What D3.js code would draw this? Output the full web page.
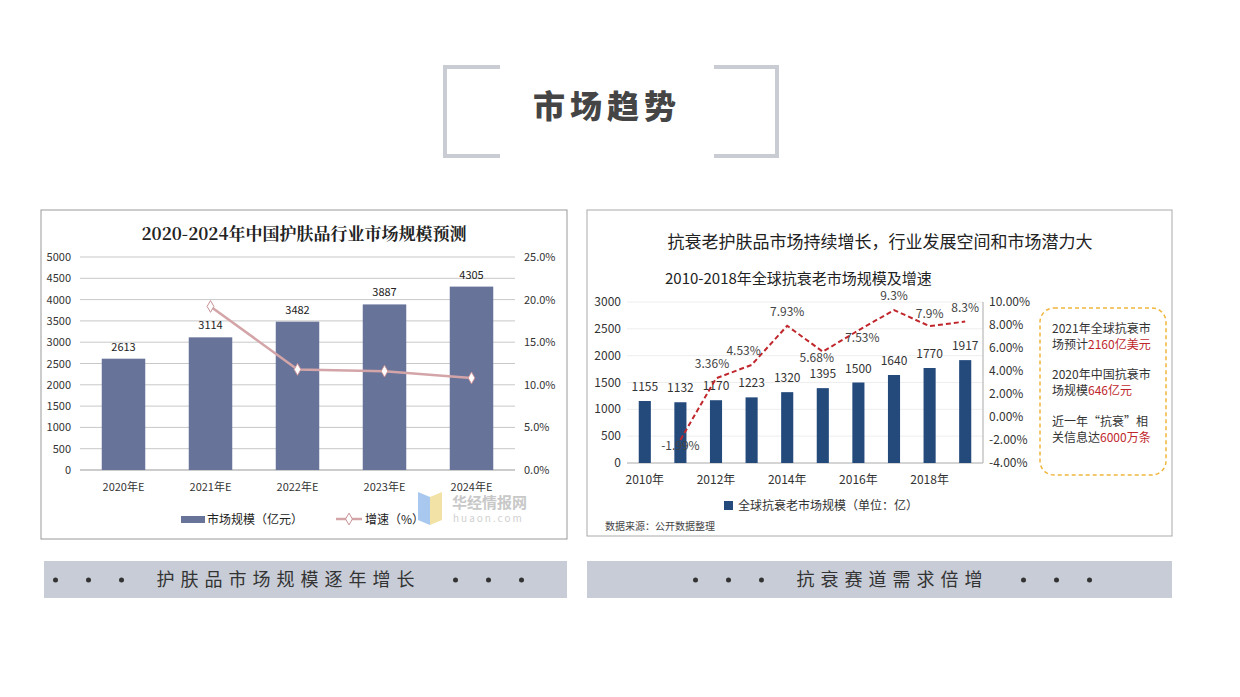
<!DOCTYPE html>
<html><head><meta charset="utf-8">
<script src="https://cdn.jsdelivr.net/npm/d3@7"></script>
<style>body{margin:0;background:#fff}text{font-family:"Noto Sans CJK SC","Noto Sans",sans-serif}</style>
</head><body><div class="canva"></div>
<script>
// left chart data
const years1 = ["2020年E", "2021年E", "2022年E", "2023年E", "2024年E"];
const market1 = [2613, 3114, 3482, 3887, 4305];
const growth1 = [null, 19.2, 11.8, 11.6, 10.8];
const leftTicks = [0, 500, 1000, 1500, 2000, 2500, 3000, 3500, 4000, 4500, 5000];
const rightTicks1 = [0, 5, 10, 15, 20, 25];

// right chart data
const years2 = ["2010年", "2011年", "2012年", "2013年", "2014年", "2015年", "2016年", "2017年", "2018年", "2019年"];
const market2 = [1155, 1132, 1170, 1223, 1320, 1395, 1500, 1640, 1770, 1917];
const growth2 = [null, -1.99, 3.36, 4.53, 7.93, 5.68, 7.53, 9.3, 7.9, 8.3];
const growthLbl2 = ["", "-1.99%", "3.36%", "4.53%", "7.93%", "5.68%", "7.53%", "9.3%", "7.9%", "8.3%"];
const rightTicks2 = [-4, -2, 0, 2, 4, 6, 8, 10];

const svg = d3.select(".canva").append("svg").attr("width", 1240).attr("height", 697);

// header frame
const fr = svg.append("g").attr("stroke", "#c9ccd3").attr("stroke-width", 4).attr("fill", "none");
fr.append("path").attr("d", "M500,67 H445 V156 H500");
fr.append("path").attr("d", "M714,67 H777 V156 H714");
svg.append("text").text("市场趋势").attr("x", 607).attr("y", 118).attr("text-anchor", "middle")
    .attr("font-size", 32).attr("font-weight", 900).attr("fill", "#454545").attr("letter-spacing", 5);

// ---------- left panel ----------
svg.append("rect").attr("x", 41).attr("y", 210).attr("width", 526).attr("height", 329)
    .attr("fill", "#fff").attr("stroke", "#999");
svg.append("text").text("2020-2024年中国护肤品行业市场规模预测").attr("x", 304).attr("y", 240)
    .attr("text-anchor", "middle").attr("font-size", 17).attr("font-weight", "bold").attr("fill", "#222")
    .style("font-family", "'Noto Serif CJK SC','Noto Sans CJK SC',serif");

const x1 = d3.scaleBand().domain(years1).range([80, 515]).paddingInner(0.5).paddingOuter(0.25);
const y1 = d3.scaleLinear().domain([0, 5000]).range([470, 257]);
const y1r = d3.scaleLinear().domain([0, 25]).range([470, 257]);

svg.selectAll(".g1").data(leftTicks.slice(1)).enter().append("line")
    .attr("x1", 80).attr("x2", 515).attr("y1", d => y1(d)).attr("y2", d => y1(d)).attr("stroke", "#c8c8c8");
svg.append("line").attr("x1", 80).attr("x2", 515).attr("y1", 470).attr("y2", 470).attr("stroke", "#999");
svg.selectAll(".t1").data(leftTicks).enter().append("text").text(d => d)
    .attr("x", 71).attr("y", d => y1(d) + 4).attr("text-anchor", "end").attr("font-size", 11).attr("fill", "#333");
svg.selectAll(".r1").data(rightTicks1).enter().append("text").text(d => d.toFixed(1) + "%")
    .attr("x", 524).attr("y", d => y1r(d) + 4).attr("font-size", 11).attr("fill", "#333");
svg.selectAll(".c1").data(years1).enter().append("text").text(d => d)
    .attr("x", d => x1(d) + x1.bandwidth() / 2).attr("y", 491).attr("text-anchor", "middle")
    .attr("font-size", 11).attr("fill", "#333");
svg.selectAll(".b1").data(market1).enter().append("rect")
    .attr("x", (d, i) => x1(years1[i])).attr("width", x1.bandwidth())
    .attr("y", d => y1(d)).attr("height", d => 470 - y1(d)).attr("fill", "#68739a");
svg.selectAll(".bl1").data(market1).enter().append("text").text(d => d)
    .attr("x", (d, i) => x1(years1[i]) + x1.bandwidth() / 2).attr("y", d => y1(d) - 8)
    .attr("text-anchor", "middle").attr("font-size", 11).attr("fill", "#222");
const pts1 = growth1.map((g, i) => [x1(years1[i]) + x1.bandwidth() / 2, g]).filter(d => d[1] != null);
svg.append("path").datum(pts1).attr("fill", "none").attr("stroke", "#d4a5a8").attr("stroke-width", 2.5)
    .attr("d", d3.line().x(d => d[0]).y(d => y1r(d[1])));
svg.selectAll(".m1").data(pts1).enter().append("path").attr("d", d3.symbol(d3.symbolDiamond, 40))
    .attr("transform", d => `translate(${d[0]},${y1r(d[1])})`).attr("fill", "#fff").attr("stroke", "#c89296");
// legend
svg.append("rect").attr("x", 181).attr("y", 516).attr("width", 24).attr("height", 7).attr("fill", "#68739a");
svg.append("text").text("市场规模（亿元）").attr("x", 207).attr("y", 524).attr("font-size", 12).attr("fill", "#222");
svg.append("line").attr("x1", 336).attr("x2", 362).attr("y1", 519).attr("y2", 519).attr("stroke", "#d4a5a8").attr("stroke-width", 2.5);
svg.append("path").attr("d", d3.symbol(d3.symbolDiamond, 40)).attr("transform", "translate(349,519)")
    .attr("fill", "#fff").attr("stroke", "#c89296");
svg.append("text").text("增速（%）").attr("x", 365).attr("y", 524).attr("font-size", 12).attr("fill", "#222");
// watermark
svg.append("path").attr("d", "M418,492 L430,497 L430,525 L418,520Z").attr("fill", "#a8c8f0");
svg.append("path").attr("d", "M430,497 L442,492 L442,520 L430,525Z").attr("fill", "#f3e2a6");
svg.append("text").text("华经情报网").attr("x", 452).attr("y", 508).attr("font-size", 15).attr("font-weight", "bold").attr("fill", "#c8c8c8");
svg.append("text").text("huaon.com").attr("x", 453).attr("y", 522).attr("font-size", 10).attr("fill", "#d0d0d0").attr("letter-spacing", 2);

// ---------- right panel ----------
svg.append("rect").attr("x", 587).attr("y", 210).attr("width", 585).attr("height", 326)
    .attr("fill", "#fff").attr("stroke", "#aaa");
svg.append("text").text("抗衰老护肤品市场持续增长，行业发展空间和市场潜力大").attr("x", 880).attr("y", 248)
    .attr("text-anchor", "middle").attr("font-size", 17).attr("fill", "#222");
svg.append("text").text("2010-2018年全球抗衰老市场规模及增速").attr("x", 665).attr("y", 284)
    .attr("font-size", 15).attr("fill", "#222");

const x2 = d3.scaleBand().domain(years2).range([627, 983]).paddingInner(0.66).paddingOuter(0.33);
const y2 = d3.scaleLinear().domain([0, 3000]).range([463, 302]);
const y2r = d3.scaleLinear().domain([-4, 10]).range([463, 302]);
const cx2 = d => x2(d) + x2.bandwidth() / 2;

svg.selectAll(".g2").data(d3.range(500, 3001, 500)).enter().append("line")
    .attr("x1", 627).attr("x2", 983).attr("y1", d => y2(d)).attr("y2", d => y2(d)).attr("stroke", "#eee");
svg.append("line").attr("x1", 627).attr("x2", 983).attr("y1", 463).attr("y2", 463).attr("stroke", "#aaa");
svg.append("line").attr("x1", 983).attr("x2", 983).attr("y1", 302).attr("y2", 463).attr("stroke", "#aaa");
svg.selectAll(".t2").data(d3.range(0, 3001, 500)).enter().append("text").text(d => d)
    .attr("x", 621).attr("y", d => y2(d) + 4).attr("text-anchor", "end").attr("font-size", 12).attr("fill", "#333");
svg.selectAll(".r2").data(rightTicks2).enter().append("text").text(d => d.toFixed(2) + "%")
    .attr("x", 989).attr("y", d => y2r(d) + 4).attr("font-size", 12).attr("fill", "#333");
svg.selectAll(".c2").data(years2.filter((d, i) => i % 2 === 0)).enter().append("text").text(d => d)
    .attr("x", d => cx2(d)).attr("y", 484).attr("text-anchor", "middle").attr("font-size", 12).attr("fill", "#333");
svg.selectAll(".b2").data(market2).enter().append("rect")
    .attr("x", (d, i) => x2(years2[i])).attr("width", x2.bandwidth())
    .attr("y", d => y2(d)).attr("height", d => 463 - y2(d)).attr("fill", "#244a7c");
svg.selectAll(".bl2").data(market2).enter().append("text").text(d => d)
    .attr("x", (d, i) => cx2(years2[i])).attr("y", d => y2(d) - 10)
    .attr("text-anchor", "middle").attr("font-size", 12).attr("fill", "#333");
const pts2 = growth2.map((g, i) => [cx2(years2[i]), g, growthLbl2[i]]).filter(d => d[1] != null);
svg.append("path").datum(pts2).attr("fill", "none").attr("stroke", "#c0272d").attr("stroke-width", 2)
    .attr("stroke-dasharray", "5,3").attr("d", d3.line().x(d => d[0]).y(d => y2r(d[1])));
const lblOff = [[0, 10], [-4, -10], [-8, -10], [0, -10], [-6, 10], [4, 12], [0, -10], [0, -8], [0, -10]];
svg.selectAll(".gl2").data(pts2).enter().append("text").text(d => d[2])
    .attr("x", (d, i) => d[0] + lblOff[i][0]).attr("y", (d, i) => y2r(d[1]) + lblOff[i][1])
    .attr("text-anchor", "middle").attr("font-size", 12).attr("fill", "#444");
// legend
svg.append("rect").attr("x", 724).attr("y", 501).attr("width", 9).attr("height", 9).attr("fill", "#244a7c");
svg.append("text").text("全球抗衰老市场规模（单位：亿）").attr("x", 738).attr("y", 510).attr("font-size", 12).attr("fill", "#333");
svg.append("text").text("数据来源：公开数据整理").attr("x", 605).attr("y", 530).attr("font-size", 10).attr("fill", "#444");
// side note
svg.append("rect").attr("x", 1040).attr("y", 308).attr("width", 126).attr("height", 167).attr("rx", 14)
    .attr("fill", "#fff").attr("stroke", "#f0b63c").attr("stroke-width", 1.5).attr("stroke-dasharray", "4,3");
const notes = [
    [["2021年全球抗衰市", "#333"]], [["场预计", "#333"], ["2160亿美元", "#c0272d"]],
    [["2020年中国抗衰市", "#333"]], [["场规模", "#333"], ["646亿元", "#c0272d"]],
    [["近一年“抗衰”相", "#333"]], [["关信息达", "#333"], ["6000万条", "#c0272d"]]];
const noteY = [333, 349, 379, 395, 426, 442];
notes.forEach((ln, i) => {
    const t = svg.append("text").attr("x", 1052).attr("y", noteY[i]).attr("font-size", 12);
    ln.forEach(s => t.append("tspan").text(s[0]).attr("fill", s[1]));
});

// ---------- bottom banners ----------
const banners = [[44, 523, "护肤品市场规模逐年增长", -17], [587, 585, "抗衰赛道需求倍增", 13]];
banners.forEach(b => {
    svg.append("rect").attr("x", b[0]).attr("y", 561).attr("width", b[1]).attr("height", 37).attr("fill", "#c7ccd6");
    const cx = b[0] + b[1] / 2 + b[3];
    svg.append("text").text(b[2]).attr("x", cx).attr("y", 586).attr("text-anchor", "middle")
        .attr("font-size", 18).attr("fill", "#333").attr("letter-spacing", 6);
    const half = b[2].length * 12 + 35;
    [0, 1, 2].forEach(k => {
        svg.append("circle").attr("cx", cx - half - k * 33).attr("cy", 580).attr("r", 2.5).attr("fill", "#333");
        svg.append("circle").attr("cx", cx + half + k * 33).attr("cy", 580).attr("r", 2.5).attr("fill", "#333");
    });
});
</script></body></html>
